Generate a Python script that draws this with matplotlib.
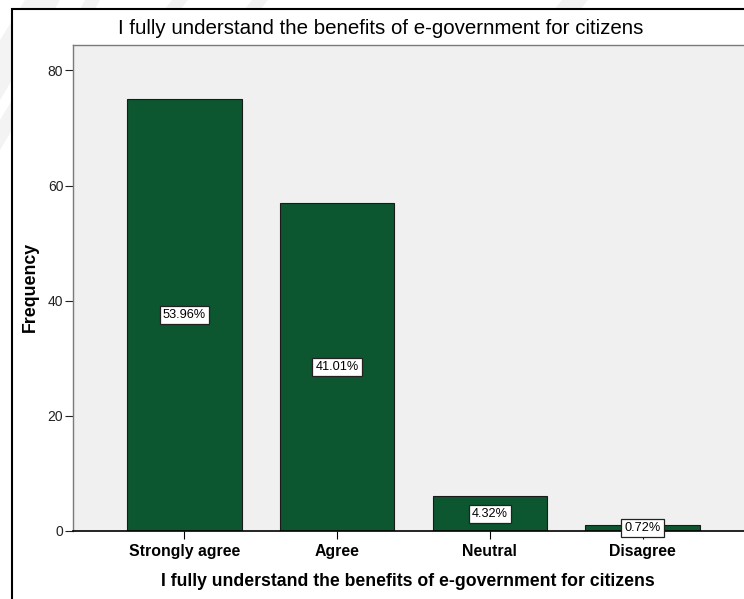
import matplotlib.pyplot as plt
from matplotlib.patches import Rectangle, Polygon
import numpy as np

plt.rcParams['font.family'] = ['Liberation Sans', 'DejaVu Sans']

# response categories and counts
categories = ['Strongly agree', 'Agree', 'Neutral', 'Disagree']
counts = [75, 57, 6, 1]
percent_labels = ['53.96%', '41.01%', '4.32%', '0.72%']
title = 'I fully understand the benefits of e-government for citizens'

W, H = 744, 599
fig = plt.figure(figsize=(W / 100, H / 100), dpi=100)


def px(x, y):
    # pixel position (from top-left) to figure fraction
    return (x / W, 1 - y / H)


# faint diagonal bands of the page background
bands = [
    [(0, 40), (25, 0), (60, 0), (0, 100)],
    [(0, 150), (12, 130), (12, 100), (0, 120)],
    [(80, 9), (85, 0), (100, 0), (95, 9)],
    [(165, 9), (172, 0), (188, 0), (181, 9)],
    [(245, 9), (252, 0), (268, 0), (261, 9)],
    [(555, 9), (562, 0), (588, 0), (581, 9)],
]
for b in bands:
    fig.patches.append(Polygon([px(*p) for p in b], closed=True,
                               transform=fig.transFigure, facecolor='#f3f3f3',
                               edgecolor='none', zorder=-3))

# outer frame around the whole chart
fig.patches.append(Rectangle(px(12, 620), 1.1, (620 - 9) / H,
                             transform=fig.transFigure, facecolor='white',
                             edgecolor='black', linewidth=1.5, zorder=-2))

# plot area (extends past the right edge)
ax_left, ax_top, ax_bottom = 73, 45, 531
ax_width = 681
ax = fig.add_axes([ax_left / W, (H - ax_bottom) / H, ax_width / W,
                   (ax_bottom - ax_top) / H])
ax.set_facecolor('#f0f0f0')

x = np.arange(len(categories))
ax.bar(x, counts, width=0.75, color='#0c5630', edgecolor='#1a1a1a',
       linewidth=0.8, zorder=2)

for xi, c, lab in zip(x, counts, percent_labels):
    ax.text(xi, c / 2, lab, ha='center', va='center', fontsize=9.2,
            zorder=4,
            bbox=dict(boxstyle='square,pad=0.25', facecolor='white',
                      edgecolor='#222222', linewidth=0.9))

ax.set_xlim(-0.73, 3.73)
ax.set_ylim(0, 84.4)
ax.set_yticks([0, 20, 40, 60, 80])
ax.set_xticks(x)
ax.set_xticklabels(categories, fontsize=11.4, fontweight='bold',
                   va='baseline')
ax.tick_params(axis='y', labelsize=10, length=6, width=0.8, pad=1,
               colors='#222222')
ax.tick_params(axis='x', length=6, width=0.8, pad=12)

for side in ['top', 'left']:
    ax.spines[side].set_color('#7a7a7a')
    ax.spines[side].set_linewidth(1.0)
ax.spines['bottom'].set_color('black')
ax.spines['bottom'].set_linewidth(1.2)
ax.spines['right'].set_visible(False)

# axis titles and chart title
fig.text(*px(30, 287), 'Frequency', ha='center', va='center', rotation=90,
         fontsize=12.8, fontweight='bold')
fig.text(*px(408, 581), title, ha='center', va='center',
         fontsize=12.7, fontweight='bold')
fig.text(*px(381, 29), title, ha='center', va='center', fontsize=14.8)

fig.savefig('out.png', dpi=100)
